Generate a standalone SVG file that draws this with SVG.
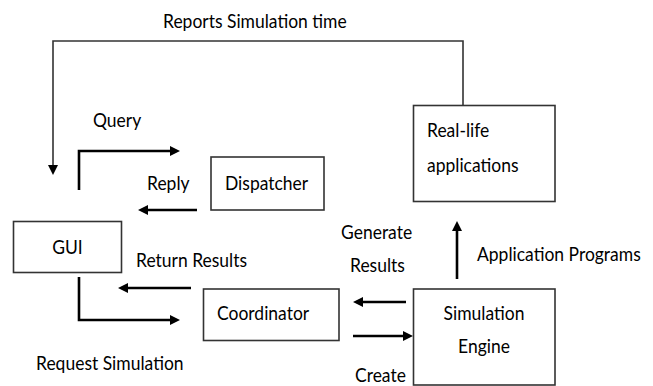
<svg xmlns="http://www.w3.org/2000/svg" width="653" height="386" viewBox="0 0 653 386">
  <style>
    .box { fill: #ffffff; stroke: #333333; stroke-width: 1.6; }
    .lbl { font-family: Lato, "Open Sans", "Liberation Sans", sans-serif; font-size: 17.5px; fill: #000000; }
    .mid { text-anchor: middle; }
    .flow { fill: none; stroke: #000000; stroke-width: 2.6; marker-end: url(#head); }
    .thin { fill: none; stroke: #333333; stroke-width: 1.6; marker-end: url(#head); }
  </style>
  <defs>
    <marker id="head" viewBox="0 0 10 10" refX="2" refY="5" markerWidth="10" markerHeight="10" markerUnits="userSpaceOnUse" orient="auto">
      <path d="M0,0 L10,5 L0,10 z" fill="#000000"/>
    </marker>
  </defs>
  <rect width="653" height="386" fill="#ffffff"/>

  <g id="connectors">
    <path class="thin" d="M463,105 V41 H53 V167"/>
    <path class="flow" d="M79,190 V151 H172"/>
    <path class="flow" d="M197,210 H146"/>
    <path class="flow" d="M191,288 H126"/>
    <path class="flow" d="M79,277 V320 H172"/>
    <path class="flow" d="M406,302 H361"/>
    <path class="flow" d="M353,336 H405"/>
    <path class="flow" d="M457,279 V229"/>
  </g>

  <!-- labels are stretched slightly in height to get the tall, narrow lettering -->
  <g id="edge-labels">
    <text class="lbl" transform="translate(163,28) scale(1,1.12)">Reports Simulation time</text>
    <text class="lbl" transform="translate(93,127) scale(1,1.12)">Query</text>
    <text class="lbl" transform="translate(147,190) scale(1,1.12)">Reply</text>
    <text class="lbl" transform="translate(136,267) scale(1,1.12)">Return Results</text>
    <text class="lbl" transform="translate(36,370) scale(1,1.12)">Request Simulation</text>
    <text class="lbl" transform="translate(341,239) scale(1,1.12)">Generate</text>
    <text class="lbl" transform="translate(350,272) scale(1,1.12)">Results</text>
    <text class="lbl" transform="translate(477,261) scale(1,1.12)">Application Programs</text>
    <text class="lbl" transform="translate(355,382) scale(1,1.12)">Create</text>
  </g>

  <g id="gui">
    <rect class="box" x="13.5" y="221.5" width="108" height="51"/>
    <text class="lbl mid" transform="translate(67.5,254) scale(1,1.12)">GUI</text>
  </g>

  <g id="dispatcher">
    <rect class="box" x="211" y="157" width="113" height="53"/>
    <text class="lbl" transform="translate(225,190) scale(1,1.12)">Dispatcher</text>
  </g>

  <g id="coordinator">
    <rect class="box" x="203.5" y="289" width="135.5" height="51.5"/>
    <text class="lbl" transform="translate(217,320) scale(1,1.12)">Coordinator</text>
  </g>

  <g id="real-life-applications">
    <rect class="box" x="413.5" y="105.5" width="141.5" height="96"/>
    <text class="lbl" transform="translate(427,137) scale(1,1.12)">Real-life</text>
    <text class="lbl" transform="translate(427,172) scale(1,1.12)">applications</text>
  </g>

  <g id="simulation-engine">
    <rect class="box" x="413.5" y="289" width="141.5" height="96"/>
    <text class="lbl mid" transform="translate(484,320) scale(1,1.12)">Simulation</text>
    <text class="lbl mid" transform="translate(484,353) scale(1,1.12)">Engine</text>
  </g>
</svg>
